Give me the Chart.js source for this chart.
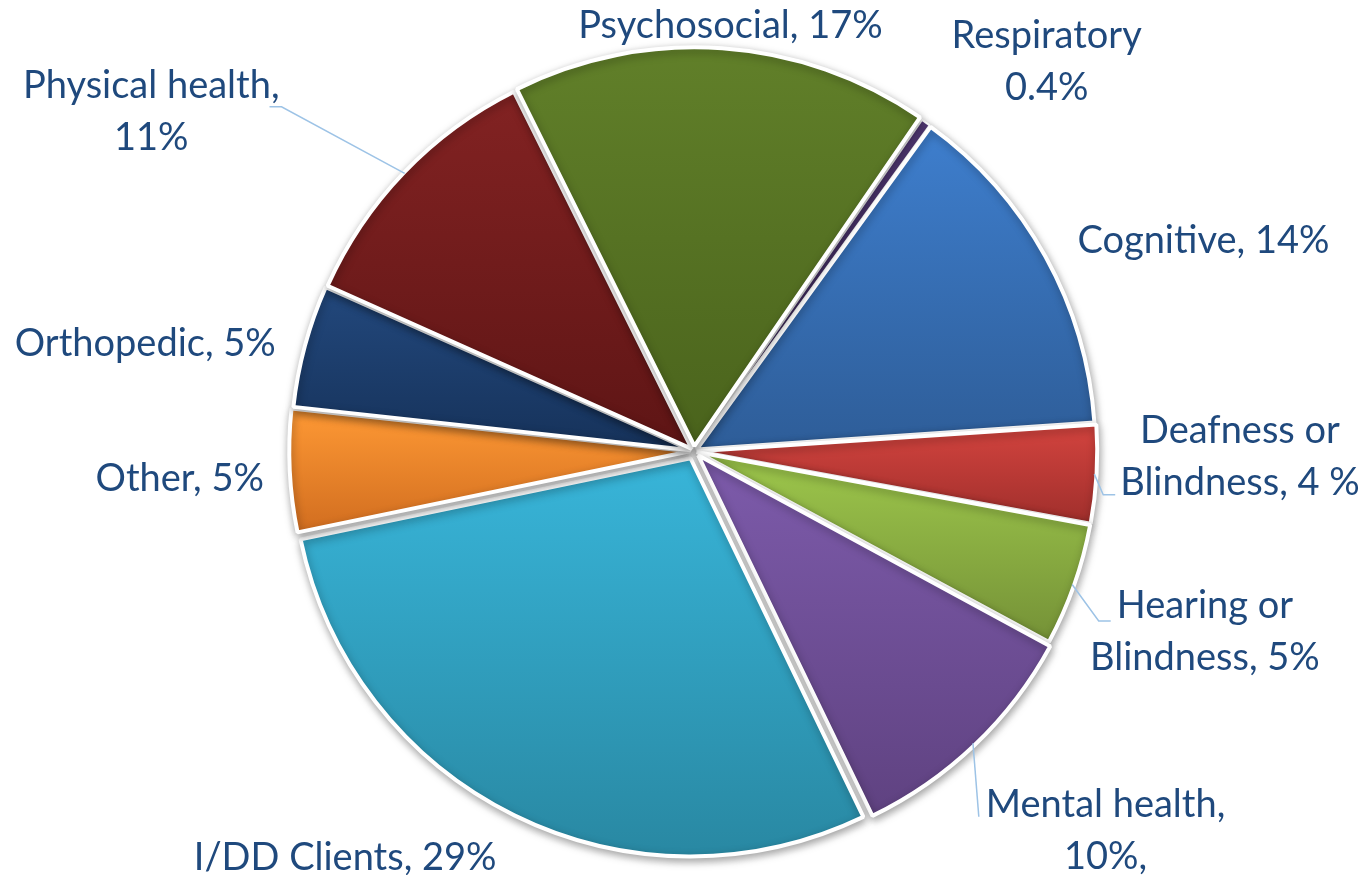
<!DOCTYPE html>
<html>
<head>
<meta charset="utf-8">
<script src="https://cdn.jsdelivr.net/npm/chart.js@4.4.0/dist/chart.umd.min.js"></script>
<style>
  html, body { margin: 0; background: #fff; }
</style>
</head>
<body>
<canvas id="canvas" width="1367" height="875"></canvas>
<script>
// data, clockwise from the Respiratory slice
const categories = ['Respiratory', 'Cognitive', 'Deafness or Blindness', 'Hearing or Blindness', 'Mental health',
                    'I/DD Clients', 'Other', 'Orthopedic', 'Physical health', 'Psychosocial']
const shares = [0.4, 14, 4, 5, 10, 29, 5, 5, 11, 17]
const labelLines = [
  ['Respiratory', '0.4%'],
  ['Cognitive, 14%'],
  ['Deafness or', 'Blindness, 4 %'],
  ['Hearing or', 'Blindness, 5%'],
  ['Mental health,', '10%,'],
  ['I/DD Clients, 29%'],
  ['Other, 5%'],
  ['Orthopedic, 5%'],
  ['Physical health,', '11%'],
  ['Psychosocial, 17%']
]

// look
const topColors    = ['#5a3e80', '#3f80d0', '#d4443f', '#9ec84c', '#7d5bab', '#38b5d9', '#ff9a35', '#23497e', '#842323', '#62812a']
const bottomColors = ['#46306a', '#2e5d98', '#9e2e2b', '#738f36', '#5e417f', '#2886a0', '#d06c1f', '#16325a', '#5e1515', '#4a631c']
// chart.js draws a quarter of the offset value
const explode = [8, 12, 12, 12, 24, 32, 16, 12, 12, 20]
const borders = [2, 4, 4, 4, 4, 4, 4, 4, 4, 4]
const rotation = 34.5
const FONT_SIZE = 38
const LINE_H = 52
const CAP_H = 24
const TEXT = '#1f497d'
// label centre: [angle from top in degrees, distance beyond the rim]
const labelPlace = [[42.2, 127], [67.6, 153], [90.6, 148], [109.5, 144], [132.7, 162],
                    [220.6, 138], [266.9, 117], [281.0, 161], [302.0, 242], [4.9, 29]]
const leaders = {
  2: {line: 1, side: 'left', gap: 5, run: 12, dy: 0},
  3: {line: 0, side: 'left', gap: 6, run: 12, dy: 3},
  4: {line: 0, side: 'left', gap: 7, run: 0, dy: 0},
  8: {line: 0, side: 'right', gap: -10, run: 12, dy: 9}
}

function sliceFill(context) {
  const i = context.dataIndex
  const chart = context.chart
  const area = chart.chartArea
  if (!area || i === undefined) return topColors[0]
  const cx = (area.left + area.right) / 2
  const cy = (area.top + area.bottom) / 2
  const r = Math.min(area.width, area.height) / 2
  const total = shares.reduce((a, b) => a + b, 0)
  let a0 = -Math.PI / 2 + rotation * Math.PI / 180
  for (let k = 0; k < i; k++) a0 += shares[k] / total * 2 * Math.PI
  const a1 = a0 + shares[i] / total * 2 * Math.PI
  const ys = [cy, cy + r * Math.sin(a0), cy + r * Math.sin(a1)]
  for (let m = -2; m <= 3; m++) {
    const e = Math.PI / 2 + m * Math.PI
    if (e > a0 && e < a1) ys.push(cy + r * Math.sin(e))
  }
  const g = chart.ctx.createLinearGradient(0, Math.min(...ys), 0, Math.max(...ys))
  g.addColorStop(0, topColors[i])
  g.addColorStop(1, bottomColors[i])
  return g
}

const shadowPlugin = {
  id: 'shadow',
  beforeDatasetsDraw(chart) {
    const c = chart.ctx
    c.save()
    c.shadowColor = 'rgba(0,0,0,0.35)'
    c.shadowBlur = 8
    c.shadowOffsetX = 1
    c.shadowOffsetY = 3
  },
  afterDatasetsDraw(chart) {
    chart.ctx.restore()
  }
}

const labelPlugin = {
  id: 'sliceLabels',
  afterDraw(chart) {
    const meta = chart.getDatasetMeta(0)
    const c = chart.ctx
    const first = meta.data[0]
    const cx = first.x, cy = first.y, r = first.outerRadius
    c.save()
    c.font = FONT_SIZE + 'px Lato'
    c.fillStyle = TEXT
    c.textAlign = 'center'
    c.textBaseline = 'alphabetic'
    meta.data.forEach((arc, i) => {
      const [deg, extra] = labelPlace[i]
      const a = (deg - 90) * Math.PI / 180
      const bx = cx + Math.cos(a) * (r + extra)
      const by = cy + Math.sin(a) * (r + extra)
      const lines = labelLines[i]
      const top = by - (lines.length - 1) * LINE_H / 2
      lines.forEach((t, k) => c.fillText(t, bx, top + k * LINE_H + CAP_H / 2))

      const ld = leaders[i]
      if (!ld) return
      const w = c.measureText(lines[ld.line]).width
      const base = top + ld.line * LINE_H + CAP_H / 2
      const dir = ld.side === 'left' ? -1 : 1
      const ex = bx + dir * (w / 2 + ld.gap)
      const ey = base + ld.dy
      const kx = ex + dir * ld.run
      const mid = (arc.startAngle + arc.endAngle) / 2
      const off = (arc.options.offset || 0) / 4
      const sx = arc.x + Math.cos(mid) * (arc.outerRadius + off)
      const sy = arc.y + Math.sin(mid) * (arc.outerRadius + off)
      c.beginPath()
      c.moveTo(sx, sy)
      c.lineTo(kx, ey)
      c.lineTo(ex, ey)
      c.strokeStyle = '#9dc3e6'
      c.lineWidth = 1.5
      c.stroke()
    })
    c.restore()
  }
}

const ctx = document.getElementById('canvas')
new Chart(ctx, {
  type: 'pie',
  data: {
    labels: categories,
    datasets: [{
      data: shares,
      backgroundColor: sliceFill,
      borderColor: '#ffffff',
      borderWidth: borders,
      offset: explode
    }]
  },
  options: {
    responsive: false,
    animation: false,
    rotation: rotation,
    layout: { padding: { left: 194, right: 173, top: 35, bottom: 8 } },
    plugins: {
      legend: { display: false },
      tooltip: { enabled: false }
    }
  },
  plugins: [shadowPlugin, labelPlugin]
})
</script>
</body>
</html>
